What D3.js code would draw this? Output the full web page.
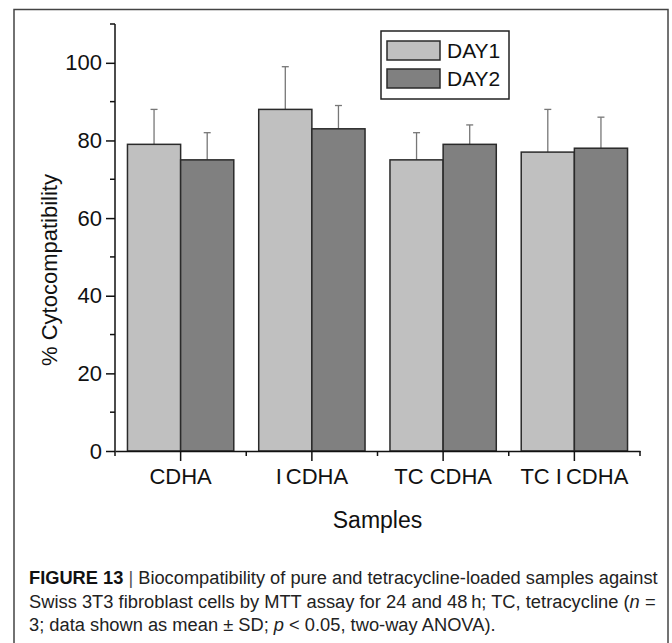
<!DOCTYPE html>
<html>
<head>
<meta charset="utf-8">
<script src="https://cdn.jsdelivr.net/npm/d3@7"></script>
<style>
  body { margin: 0; background: #fff; }
  text { font-family: "Liberation Sans", Arial, sans-serif; fill: #111; }
</style>
</head>
<body>
<div id="chart"></div>
<script>
var w = 672,
    h = 643,
    left = 115,
    right = 640,
    top_ = 24,
    bottom = 451;

// data
var samples = ['CDHA', 'ICDHA', 'TC CDHA', 'TC ICDHA'],
    series = ['DAY1', 'DAY2'],
    colors = ['#c0c0c0', '#808080'],
    day1 = [79, 88, 75, 77],
    day2 = [75, 83, 79, 78],
    sd1 = [9, 11, 7, 11],
    sd2 = [7, 6, 5, 8],
    yTicks = [0, 20, 40, 60, 80, 100],
    caption = [
      'Biocompatibility of pure and tetracycline-loaded samples against',
      'Swiss 3T3 fibroblast cells by MTT assay for 24 and 48\u2009h; TC, tetracycline (',
      '3; data shown as mean \u00b1 SD; '
    ];

var rows = samples.map(function(s, i) {
  return {sample: s, vals: [
    {key: series[0], v: day1[i], sd: sd1[i], c: colors[0]},
    {key: series[1], v: day2[i], sd: sd2[i], c: colors[1]}
  ]};
});

var svg = d3.select('#chart').append('svg')
    .attr('width', w)
    .attr('height', h);

// figure frame
svg.append('rect')
    .attr('x', 14).attr('y', 9.5)
    .attr('width', 654).attr('height', 660)
    .attr('fill', 'none')
    .attr('stroke', '#444')
    .attr('stroke-width', 1.5);

var x0 = d3.scaleBand().domain(samples).range([left, right])
    .paddingInner(0.19).paddingOuter(0.095);
var x1 = d3.scaleBand().domain(series).range([0, x0.bandwidth()]);
var y = d3.scaleLinear().domain([0, 110]).range([bottom, top_]);

// bars
var g = svg.selectAll('.grp')
    .data(rows)
  .enter().append('g')
    .attr('transform', function(d){ return 'translate(' + x0(d.sample) + ',0)'; });

g.selectAll('line.err')
    .data(function(d){ return d.vals; })
  .enter().append('line')
    .attr('x1', function(d){ return x1(d.key) + x1.bandwidth() / 2; })
    .attr('x2', function(d){ return x1(d.key) + x1.bandwidth() / 2; })
    .attr('y1', function(d){ return y(d.v); })
    .attr('y2', function(d){ return y(d.v + d.sd); })
    .attr('stroke', '#777').attr('stroke-width', 1.3);

g.selectAll('line.cap')
    .data(function(d){ return d.vals; })
  .enter().append('line')
    .attr('x1', function(d){ return x1(d.key) + x1.bandwidth() / 2 - 3.5; })
    .attr('x2', function(d){ return x1(d.key) + x1.bandwidth() / 2 + 3.5; })
    .attr('y1', function(d){ return y(d.v + d.sd); })
    .attr('y2', function(d){ return y(d.v + d.sd); })
    .attr('stroke', '#777').attr('stroke-width', 1.3);

g.selectAll('rect')
    .data(function(d){ return d.vals; })
  .enter().append('rect')
    .attr('x', function(d){ return x1(d.key); })
    .attr('y', function(d){ return y(d.v); })
    .attr('width', x1.bandwidth())
    .attr('height', function(d){ return y(0) - y(d.v); })
    .attr('fill', function(d){ return d.c; })
    .attr('stroke', '#2a2a2a')
    .attr('stroke-width', 1.5);

// y axis
var yAxis = svg.append('g')
    .attr('transform', 'translate(' + left + ',0)')
    .call(d3.axisLeft(y).tickValues(yTicks).tickSize(9).tickPadding(4));
yAxis.select('.domain').remove();
yAxis.selectAll('line').attr('stroke', '#111').attr('stroke-width', 1.5);
yAxis.selectAll('text').style('font-size', '22px').attr('fill', '#111')
    .style('font-family', '"Liberation Sans", Arial, sans-serif');
svg.append('line')
    .attr('x1', left).attr('x2', left)
    .attr('y1', y(110)).attr('y2', y(0))
    .attr('stroke', '#111').attr('stroke-width', 1.5);
svg.selectAll('.ymin')
    .data(d3.range(10, 111, 20))
  .enter().append('line')
    .attr('x1', left - 5).attr('x2', left)
    .attr('y1', function(d){ return y(d); })
    .attr('y2', function(d){ return y(d); })
    .attr('stroke', '#111').attr('stroke-width', 1.5);

// x axis
var xAxis = svg.append('g')
    .attr('transform', 'translate(0,' + bottom + ')')
    .call(d3.axisBottom(x0).tickSize(10).tickPadding(7).tickSizeOuter(0));
xAxis.select('.domain').attr('stroke', '#111').attr('stroke-width', 1.5);
xAxis.selectAll('line').attr('stroke', '#111').attr('stroke-width', 1.5);
xAxis.selectAll('text').style('font-size', '22px').attr('fill', '#111')
    .style('font-family', '"Liberation Sans", Arial, sans-serif')
    .each(function(d) {
      // the original label set the "I" a little apart from "CDHA"
      var k = d.indexOf('ICDHA');
      if (k < 0) return;
      var t = d3.select(this).text(null);
      t.append('tspan').text(d.slice(0, k + 1));
      t.append('tspan').attr('dx', 4).text(d.slice(k + 1));
    });
var step = x0.step();
svg.selectAll('.xmin')
    .data(d3.range(samples.length + 1))
  .enter().append('line')
    .attr('x1', function(i){ return left + i * step; })
    .attr('x2', function(i){ return left + i * step; })
    .attr('y1', bottom).attr('y2', bottom + 5)
    .attr('stroke', '#111').attr('stroke-width', 1.5);

// axis titles
svg.append('text')
    .attr('transform', 'translate(57,270) rotate(-90)')
    .attr('text-anchor', 'middle')
    .style('font-size', '22px')
    .text('% Cytocompatibility');
svg.append('text')
    .attr('x', (left + right) / 2).attr('y', 528)
    .attr('text-anchor', 'middle')
    .style('font-size', '23px')
    .text('Samples');

// legend
var lg = svg.append('g').attr('transform', 'translate(381,31)');
lg.append('rect')
    .attr('width', 128).attr('height', 68)
    .attr('fill', '#fff').attr('stroke', '#222').attr('stroke-width', 1.5);
var li = lg.selectAll('.li')
    .data(series)
  .enter().append('g')
    .attr('transform', function(d, i){ return 'translate(6,' + (10 + i * 28) + ')'; });
li.append('rect')
    .attr('width', 53).attr('height', 19)
    .attr('fill', function(d, i){ return colors[i]; })
    .attr('stroke', '#2a2a2a').attr('stroke-width', 1.5);
li.append('text')
    .attr('x', 60).attr('y', 17)
    .style('font-size', '21px')
    .text(function(d){ return d; });

// caption: squeeze lines horizontally to the narrow journal face
var cap = svg.append('g').style('font-size', '19px');
function capLine(yy) {
  return cap.append('g').attr('transform', 'translate(29,' + yy + ')')
    .append('text').style('fill', '#222');
}
var t1 = capLine(584);
t1.append('tspan').style('font-weight', 'bold').style('fill', '#111').text('FIGURE 13');
t1.append('tspan').style('fill', '#555').text(' | ');
t1.append('tspan').text(caption[0]);
var t2 = capLine(608);
t2.append('tspan').text(caption[1]);
t2.append('tspan').style('font-style', 'italic').text('n');
t2.append('tspan').text(' =');
var t3 = capLine(631);
t3.append('tspan').text(caption[2]);
t3.append('tspan').style('font-style', 'italic').text('p');
t3.append('tspan').text(' < 0.05, two-way ANOVA).');

var s1 = 629 / t1.node().getComputedTextLength(),
    s2 = 627 / t2.node().getComputedTextLength();
t1.attr('transform', 'scale(' + s1 + ',1)');
t2.attr('transform', 'scale(' + s2 + ',1)');
t3.attr('transform', 'scale(' + ((s1 + s2) / 2) + ',1)');
</script>
</body>
</html>
